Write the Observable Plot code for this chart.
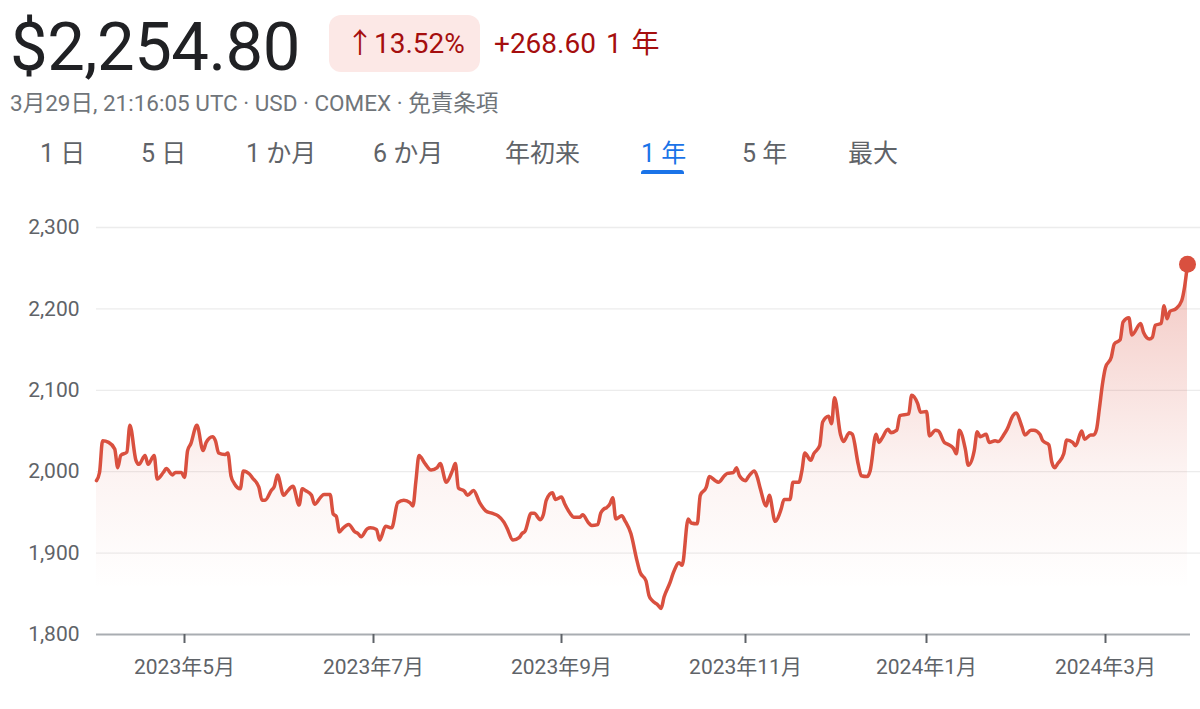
<!DOCTYPE html>
<html>
<head>
<meta charset="utf-8">
<script src="https://cdn.jsdelivr.net/npm/d3@7"></script>
<script src="https://cdn.jsdelivr.net/npm/@observablehq/plot@0.6"></script>
<style>
  html, body { margin: 0; padding: 0; background: #fff; }
  body { width: 1200px; height: 709px; position: relative; overflow: hidden;
         font-family: Roboto, "Noto Sans CJK JP", sans-serif; }
  .abs { position: absolute; white-space: nowrap; }
  #price { left: 10px; top: 14px; font-size: 67px; line-height: 1; color: #202124; letter-spacing: -0.5px; }
  #badge { left: 329px; top: 15px; width: 151px; height: 57px; border-radius: 12px; background: #fce8e6; }
  #pct { left: 346px; top: 30px; font-size: 28px; line-height: 1; color: #a50e0e; }
  #chg { left: 494px; top: 30px; font-size: 28px; line-height: 1; color: #a50e0e; word-spacing: 3px; }
  #sub { left: 10px; top: 92px; font-size: 22.5px; line-height: 1; color: #70757a; }
  .tab { top: 141px; font-size: 25px; line-height: 1; color: #5f6368; }
  .tab.sel { color: #1a73e8; }
  #ul { left: 641px; top: 170px; width: 43px; height: 4px; border-radius: 3px 3px 0 0; background: #1a73e8; }
  #chart { position: absolute; left: 0; top: 190px; }
</style>
</head>
<body>
<div id="header"></div>
<div id="chart"></div>
<script>
// ---- header texts ----
const priceText = "$2,254.80";
const pctText = "↑13.52%";
const changeText = "+268.60 1 年";
const subText = "3月29日, 21:16:05 UTC · USD · COMEX · 免責条項";
const tabLabels = ["1 日", "5 日", "1 か月", "6 か月", "年初来", "1 年", "5 年", "最大"];
const tabLefts = [40, 141, 246, 373, 505, 641, 742, 848];
const selectedTab = "1 年";

// ---- series ----
const dates = [
"2023-04-02","2023-04-03","2023-04-04","2023-04-06","2023-04-08","2023-04-09","2023-04-10","2023-04-12","2023-04-13","2023-04-15",
"2023-04-16","2023-04-18","2023-04-19","2023-04-21","2023-04-22","2023-04-24","2023-04-25","2023-04-27","2023-04-28","2023-04-30",
"2023-05-01","2023-05-02","2023-05-03","2023-05-05","2023-05-07","2023-05-08","2023-05-10","2023-05-11","2023-05-12","2023-05-14",
"2023-05-15","2023-05-16","2023-05-17","2023-05-19","2023-05-20","2023-05-22","2023-05-23","2023-05-25","2023-05-26","2023-05-27",
"2023-05-29","2023-05-30","2023-05-31","2023-06-02","2023-06-03","2023-06-05","2023-06-07","2023-06-08","2023-06-09","2023-06-11",
"2023-06-12","2023-06-14","2023-06-15","2023-06-17","2023-06-18","2023-06-19","2023-06-20","2023-06-21","2023-06-23","2023-06-25",
"2023-06-26","2023-06-27","2023-06-29","2023-06-30","2023-07-02","2023-07-03","2023-07-05","2023-07-07","2023-07-09","2023-07-11",
"2023-07-13","2023-07-14","2023-07-15","2023-07-16","2023-07-18","2023-07-20","2023-07-22","2023-07-23","2023-07-25","2023-07-27",
"2023-07-28","2023-07-29","2023-07-31","2023-08-01","2023-08-03","2023-08-05","2023-08-07","2023-08-09","2023-08-11","2023-08-13",
"2023-08-14","2023-08-16","2023-08-18","2023-08-19","2023-08-20","2023-08-22","2023-08-23","2023-08-25","2023-08-26","2023-08-27",
"2023-08-29","2023-08-30","2023-09-01","2023-09-02","2023-09-04","2023-09-05","2023-09-07","2023-09-08","2023-09-10","2023-09-11",
"2023-09-13","2023-09-14","2023-09-15","2023-09-16","2023-09-17","2023-09-18","2023-09-19","2023-09-21","2023-09-22","2023-09-24",
"2023-09-26","2023-09-27","2023-09-29","2023-09-30","2023-10-01","2023-10-03","2023-10-04","2023-10-05","2023-10-07","2023-10-08",
"2023-10-10","2023-10-11","2023-10-13","2023-10-14","2023-10-16","2023-10-17","2023-10-19","2023-10-20","2023-10-22","2023-10-23",
"2023-10-25","2023-10-26","2023-10-28","2023-10-29","2023-10-30","2023-11-01","2023-11-02","2023-11-04","2023-11-05","2023-11-06",
"2023-11-08","2023-11-09","2023-11-11","2023-11-13","2023-11-14","2023-11-16","2023-11-17","2023-11-19","2023-11-20","2023-11-21",
"2023-11-23","2023-11-24","2023-11-26","2023-11-27","2023-11-29","2023-11-30","2023-12-01","2023-12-03","2023-12-04","2023-12-06",
"2023-12-07","2023-12-09","2023-12-10","2023-12-12","2023-12-13","2023-12-15","2023-12-16","2023-12-17","2023-12-19","2023-12-20",
"2023-12-22","2023-12-23","2023-12-26","2023-12-27","2023-12-29","2023-12-30","2024-01-01","2024-01-02","2024-01-04","2024-01-05",
"2024-01-07","2024-01-08","2024-01-10","2024-01-11","2024-01-12","2024-01-14","2024-01-15","2024-01-17","2024-01-18","2024-01-19",
"2024-01-21","2024-01-22","2024-01-24","2024-01-25","2024-01-27","2024-01-28","2024-01-30","2024-01-31","2024-02-02","2024-02-03",
"2024-02-05","2024-02-06","2024-02-08","2024-02-09","2024-02-11","2024-02-12","2024-02-13","2024-02-14","2024-02-16","2024-02-17",
"2024-02-19","2024-02-20","2024-02-22","2024-02-23","2024-02-25","2024-02-26","2024-02-27","2024-02-28","2024-02-29","2024-03-01",
"2024-03-03","2024-03-04","2024-03-06","2024-03-07","2024-03-09","2024-03-10","2024-03-13","2024-03-14","2024-03-16","2024-03-17",
"2024-03-18","2024-03-20","2024-03-21","2024-03-22","2024-03-23","2024-03-25","2024-03-27","2024-03-28","2024-03-29"
];
const prices = [
1989,1999,2038,2036,2028,2005,2020,2024,2057,2014,
2009,2020,2009,2020,1991,1999,2004,1996,1999,1999,
1993,2026,2034,2057,2026,2036,2043,2038,2023,2021,
2023,1995,1986,1979,2001,1997,1992,1981,1965,1965,
1977,1982,1996,1971,1975,1982,1959,1979,1977,1971,
1960,1969,1972,1972,1948,1945,1926,1930,1935,1926,
1924,1920,1930,1931,1929,1916,1933,1931,1962,1965,
1962,1958,1989,2020,2010,2002,2005,2010,1987,2001,
2010,1980,1976,1971,1977,1962,1952,1949,1946,1938,
1931,1916,1919,1924,1927,1949,1949,1941,1947,1965,
1974,1966,1969,1961,1948,1944,1944,1947,1937,1934,
1935,1949,1954,1956,1960,1968,1942,1946,1940,1924,
1891,1877,1866,1848,1842,1836,1832,1846,1864,1875,
1888,1885,1942,1937,1936,1971,1981,1994,1989,1987,
1995,1998,1999,2005,1995,1989,1994,2001,1993,1979,
1958,1971,1939,1954,1966,1966,1987,1987,2001,2023,
2014,2022,2032,2061,2068,2059,2091,2046,2037,2048,
2046,2009,1995,1994,2001,2046,2036,2041,2052,2048,
2051,2069,2071,2094,2084,2073,2074,2044,2051,2050,
2036,2034,2029,2022,2051,2028,2008,2026,2049,2043,
2046,2036,2038,2037,2046,2052,2069,2072,2055,2045,
2051,2051,2046,2038,2033,2012,2005,2010,2022,2039,
2036,2032,2050,2040,2045,2045,2052,2079,2108,2128,
2141,2157,2162,2184,2189,2168,2182,2171,2163,2165,
2180,2182,2204,2188,2197,2200,2210,2227,2254.8
];

// ---- axes ----
const yDomain = [1800, 2300];
const yTicks = [1800, 1900, 2000, 2100, 2200, 2300];
const xTickDates = ["2023-05-01", "2023-07-01", "2023-09-01", "2023-11-01", "2024-01-01", "2024-03-01"];
const xTickLabels = ["2023年5月", "2023年7月", "2023年9月", "2023年11月", "2024年1月", "2024年3月"];
// the source chart spaces trading days evenly, so month starts are not evenly spaced in calendar time
const xBreaks = ["2023-04-02", ...xTickDates, "2024-03-29"];
const xBreakPixels = [96, 184, 373, 561, 745, 926, 1105, 1187];

// ---- header ----
const header = document.getElementById("header");
function addDiv(id, cls, text, style) {
  const d = document.createElement("div");
  if (id) d.id = id;
  d.className = "abs " + (cls || "");
  if (text != null) d.textContent = text;
  if (style) Object.assign(d.style, style);
  header.appendChild(d);
  return d;
}
addDiv("price", "", priceText);
addDiv("badge", "", null);
addDiv("pct", "", pctText);
addDiv("chg", "", changeText);
addDiv("sub", "", subText);
tabLabels.forEach((t, i) => addDiv(null, "tab" + (t === selectedTab ? " sel" : ""), t, {left: tabLefts[i] + "px"}));
addDiv("ul", "", null);

// ---- chart ----
const parse = d3.utcParse("%Y-%m-%d");
const data = dates.map((d, i) => ({date: parse(d), price: prices[i]}));
const last = data[data.length - 1];
const tickDates = xTickDates.map(parse);
const labelByTime = new Map(tickDates.map((d, i) => [+d, xTickLabels[i]]));
const lineColor = "#d9503f";

const gradient = () => {
  const defs = d3.create("svg:defs");
  const g = defs.append("linearGradient").attr("id", "areaGrad")
    .attr("x1", 0).attr("y1", 0).attr("x2", 0).attr("y2", 1);
  [[0, 0.32], [0.3, 0.18], [0.55, 0.07], [0.88, 0]].forEach(([o, a]) =>
    g.append("stop").attr("offset", o).attr("stop-color", lineColor).attr("stop-opacity", a));
  return defs.node();
};

const chart = Plot.plot({
  width: 1200,
  height: 519,
  marginLeft: 96,
  marginRight: 13,
  marginTop: 37,
  marginBottom: 75,
  style: {fontFamily: "Roboto, 'Noto Sans CJK JP', sans-serif", fontSize: "21px", background: "transparent"},
  x: {type: "utc", domain: xBreaks.map(parse), range: xBreakPixels},
  y: {domain: yDomain},
  marks: [
    gradient,
    Plot.ruleY(yTicks.slice(1), {stroke: "#ececec", strokeWidth: 1.3, insetRight: -13}),
    Plot.areaY(data, {x: "date", y1: yDomain[0], y2: "price", fill: "url(#areaGrad)", curve: "monotone-x"}),
    Plot.ruleY([yDomain[0]], {stroke: "#a9adb2", strokeWidth: 2, insetRight: -3}),
    Plot.axisY(yTicks, {tickSize: 0, tickPadding: 17, fontSize: 21, color: "#5f6368", label: null}),
    Plot.axisX(tickDates, {tickSize: 9, tickPadding: 16, fontSize: 21, color: "#5f6368", strokeWidth: 2,
      tickFormat: d => labelByTime.get(+d), label: null}),
    Plot.lineY(data, {x: "date", y: "price", stroke: lineColor, strokeWidth: 3.5, curve: "monotone-x"}),
    Plot.dot([last], {x: "date", y: "price", r: 8.5, fill: lineColor})
  ]
});
document.getElementById("chart").appendChild(chart);
</script>
</body>
</html>
